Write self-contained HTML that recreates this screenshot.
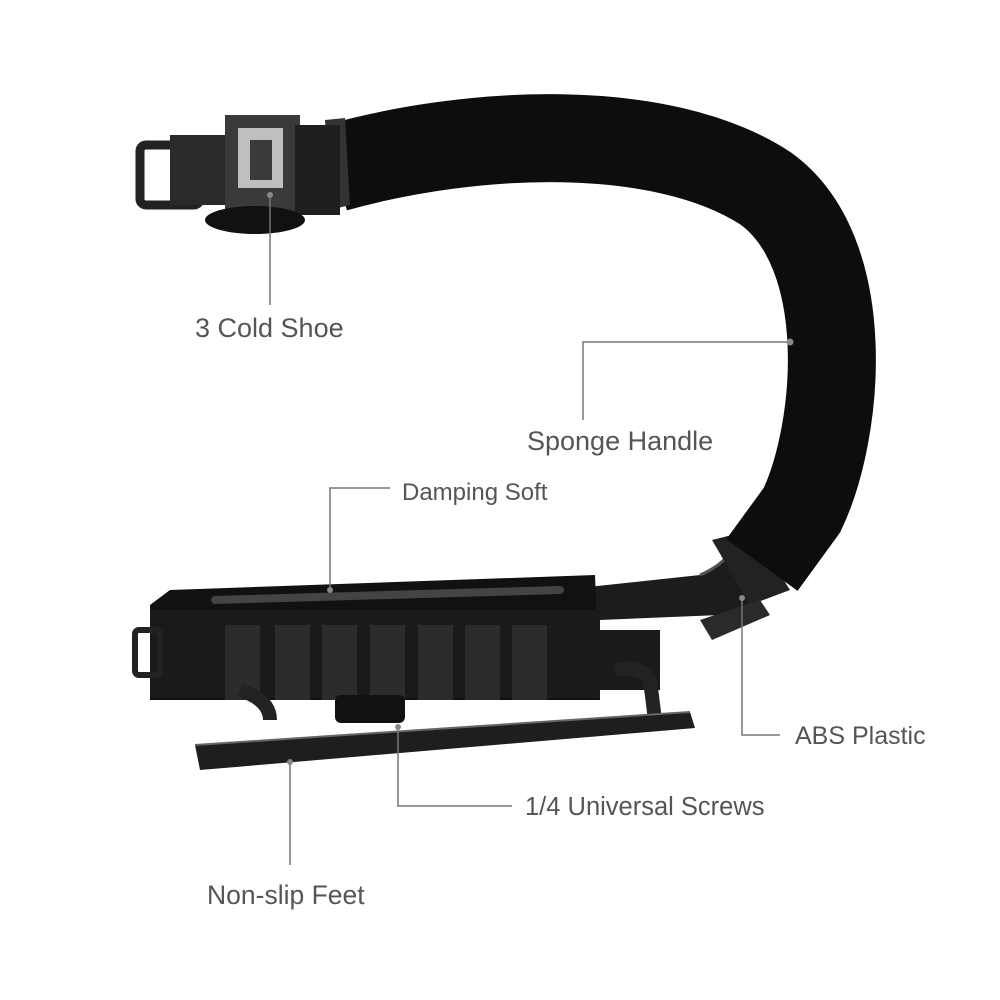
<!DOCTYPE html>
<html><head><meta charset="utf-8"><style>
html,body{margin:0;padding:0;background:#fff;}
svg{display:block}
text{font-family:"Liberation Sans",sans-serif;fill:#555;}
</style></head><body>
<svg width="1000" height="1000" viewBox="0 0 1000 1000">
<rect width="1000" height="1000" fill="#fff"/>
<path d="M560 590 L700 575 Q735 560 740 530 L775 560 Q770 610 720 615 L600 620 Z" fill="#1c1c1c"/>
<path d="M700 575 Q735 560 740 530" stroke="#555" stroke-width="3" fill="none"/>
<path d="M712 540 L752 530 L790 590 L750 605 Z" fill="#222"/>
<path d="M700 620 L760 600 L770 615 L712 640 Z" fill="#2a2a2a"/>
<path d="M335 168 C470 130 660 120 765 188 C855 252 840 430 802 510 L762 565" stroke="#0d0d0d" stroke-width="88" fill="none" stroke-linecap="butt"/>
<path d="M325 120 L345 118 L350 205 L330 210 Z" fill="#333"/>
<rect x="140" y="145" width="60" height="60" rx="6" fill="none" stroke="#222" stroke-width="9"/>
<rect x="170" y="135" width="60" height="70" fill="#2a2a2a"/>
<rect x="225" y="115" width="75" height="100" fill="#3a3a3a"/>
<rect x="238" y="128" width="45" height="60" fill="#bfbfbf"/>
<rect x="250" y="140" width="22" height="40" fill="#3a3a3a"/>
<rect x="295" y="125" width="45" height="90" fill="#1f1f1f"/>
<ellipse cx="255" cy="220" rx="50" ry="14" fill="#111"/>
<path d="M150 605 L170 590 L595 575 L600 700 L150 700 Z" fill="#111"/>
<rect x="150" y="610" width="450" height="88" fill="#1a1a1a"/>
<g fill="#2c2c2c">
<rect x="225" y="625" width="35" height="75"/><rect x="275" y="625" width="35" height="75"/>
<rect x="322" y="625" width="35" height="75"/><rect x="370" y="625" width="35" height="75"/>
<rect x="418" y="625" width="35" height="75"/><rect x="465" y="625" width="35" height="75"/>
<rect x="512" y="625" width="35" height="75"/>
</g>
<path d="M215 600 L560 590" stroke="#444" stroke-width="8" stroke-linecap="round"/>
<rect x="135" y="630" width="25" height="45" rx="4" fill="none" stroke="#222" stroke-width="6"/>
<rect x="600" y="630" width="60" height="60" fill="#1a1a1a"/>
<rect x="335" y="695" width="70" height="28" rx="6" fill="#111"/>
<path d="M240 690 Q270 700 270 720" stroke="#222" stroke-width="14" fill="none"/>
<path d="M615 670 Q640 665 650 680 L655 720" stroke="#222" stroke-width="14" fill="none"/>
<path d="M195 745 L690 712 L695 728 L200 770 Z" fill="#1e1e1e"/>
<path d="M195 745 L690 712" stroke="#666" stroke-width="2"/>
<g stroke="#777" stroke-width="1.5" fill="none">
<path d="M270 195 V305"/>
<path d="M790 342 H583 V420"/>
<path d="M330 590 V488 H390"/>
<path d="M742 598 V735 H780"/>
<path d="M398 727 V806 H512"/>
<path d="M290 762 V865"/>
</g>
<g fill="#888">
<circle cx="270" cy="195" r="3"/><circle cx="790" cy="342" r="3.5"/>
<circle cx="330" cy="590" r="3"/><circle cx="742" cy="598" r="3"/>
<circle cx="398" cy="727" r="3"/><circle cx="290" cy="762" r="3"/>
</g>
<text x="195" y="337" font-size="27">3 Cold Shoe</text>
<text x="527" y="450" font-size="27">Sponge Handle</text>
<text x="402" y="500" font-size="24">Damping Soft</text>
<text x="795" y="744" font-size="25">ABS Plastic</text>
<text x="525" y="815" font-size="25.5">1/4 Universal Screws</text>
<text x="207" y="904" font-size="26.5">Non-slip Feet</text>
</svg>
</body></html>
